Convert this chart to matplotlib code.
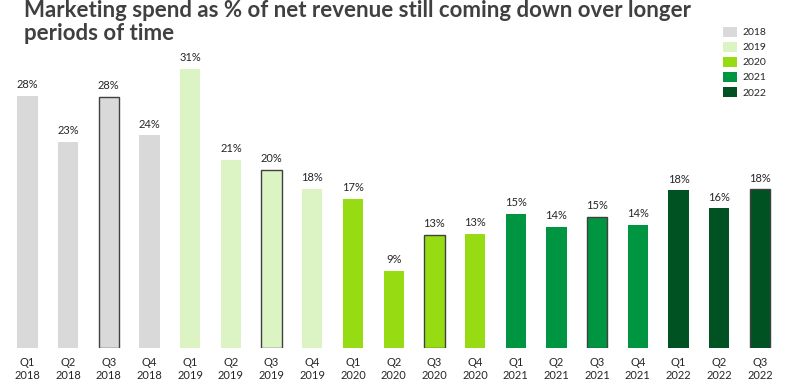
import matplotlib
matplotlib.use("Agg")
import matplotlib.pyplot as plt
from matplotlib.patches import Patch

quarters = ["Q1\n2018", "Q2\n2018", "Q3\n2018", "Q4\n2018",
            "Q1\n2019", "Q2\n2019", "Q3\n2019", "Q4\n2019",
            "Q1\n2020", "Q2\n2020", "Q3\n2020", "Q4\n2020",
            "Q1\n2021", "Q2\n2021", "Q3\n2021", "Q4\n2021",
            "Q1\n2022", "Q2\n2022", "Q3\n2022"]
values = [28.0, 22.9, 27.9, 23.6, 31.0, 20.9, 19.8, 17.7, 16.6, 8.6, 12.6, 12.7,
          14.9, 13.5, 14.6, 13.7, 17.5, 15.5, 17.6]
labels = ["28%", "23%", "28%", "24%", "31%", "21%", "20%", "18%", "17%", "9%", "13%", "13%",
          "15%", "14%", "15%", "14%", "18%", "16%", "18%"]
years = ["2018", "2019", "2020", "2021", "2022"]
year_colors = {"2018": "#d9d9d9", "2019": "#dcf3c3", "2020": "#97dc13",
               "2021": "#009540", "2022": "#005222"}

plt.rcParams['font.family'] = ['Lato', 'DejaVu Sans']

fig = plt.figure(figsize=(7.85, 3.91), dpi=100)
ax = fig.add_axes([0.009, 0.109, 0.985, 0.785])

x = list(range(len(values)))
for i, (q, v, lab) in enumerate(zip(quarters, values, labels)):
    yr = q.split("\n")[1]
    is_q3 = q.startswith("Q3")
    ax.bar(i, v, width=0.5, color=year_colors[yr],
           edgecolor="#404040" if is_q3 else "none",
           linewidth=1.0 if is_q3 else 0)
    ax.text(i, v + 0.6, lab, ha="center", va="bottom", fontsize=8, color="#262626")

ax.set_xlim(-0.5, len(values) - 0.5)
ax.set_ylim(0, 34)
ax.set_xticks(x)
ax.set_xticklabels(quarters, fontsize=8, color="#262626", linespacing=1.3)
ax.tick_params(axis="x", length=0, pad=6)
ax.set_yticks([])
for s in ax.spines.values():
    s.set_visible(False)

fig.text(0.031, 0.999, "Marketing spend as % of net revenue still coming down over longer\nperiods of time",
         ha="left", va="top", fontsize=16, fontweight="bold", color="#404040", linespacing=1.12)

handles = [Patch(facecolor=year_colors[y], edgecolor="none", label=y) for y in years]
leg = fig.legend(handles=handles, loc="upper right", bbox_to_anchor=(0.985, 0.95),
                 frameon=False, fontsize=7.5, handlelength=1.35, handleheight=1.05,
                 handletextpad=0.45, labelspacing=0.45, borderpad=0.2)
for t in leg.get_texts():
    t.set_color("#262626")

fig.savefig("out.png", dpi=100)
